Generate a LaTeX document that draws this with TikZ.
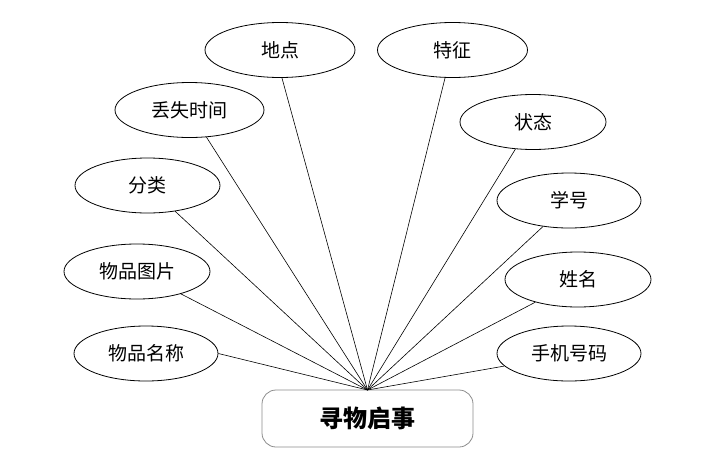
\documentclass[tikz,border=0pt]{standalone}
\usepackage{fontspec}
\newfontfamily\cjk{Noto Sans CJK SC}
\usetikzlibrary{shapes.geometric}
\begin{document}
\begin{tikzpicture}[x=1pt,y=-1pt,
  attr/.style={draw=black,line width=0.8pt,ellipse,minimum width=146pt,minimum height=55pt,inner sep=0pt,font=\cjk\fontsize{19}{19}\selectfont},
  entity/.style={draw=black!45,line width=0.8pt,rounded corners=14pt,minimum width=211pt,minimum height=57pt,inner sep=0pt,font=\cjk\bfseries\fontsize{24}{24}\selectfont},
  link/.style={draw=black,line width=0.6pt}]
\useasboundingbox (0,0) rectangle (710,456);
\node[entity] (e) at (367.5,418.5) {寻物启事};
\coordinate (hub) at (367.5,390);
\node[attr,minimum width=150pt] (a1) at (280,50) {地点};
\node[attr,minimum width=150pt] (a2) at (452.5,50) {特征};
\node[attr,minimum width=149pt] (a3) at (189.5,110) {丢失时间};
\node[attr] (a4) at (533,122) {状态};
\node[attr,minimum width=145pt] (a5) at (147.5,185.5) {分类};
\node[attr,minimum width=144pt] (a6) at (569,200.5) {学号};
\node[attr] (a7) at (137,271.5) {物品图片};
\node[attr] (a8) at (578,279.5) {姓名};
\node[attr,minimum width=144pt] (a9) at (146,353.5) {物品名称};
\node[attr,minimum width=144pt] (a10) at (569,353.5) {手机号码};
\foreach \n/\a in {a1/-86,a2/-105,a3/-58.6,a4/-123,a5/-43,a6/-135.5,a7/-27,a8/-152,a9/0,a10/-169}
  \draw[link] (hub) -- (\n.\a);
\end{tikzpicture}
\end{document}
